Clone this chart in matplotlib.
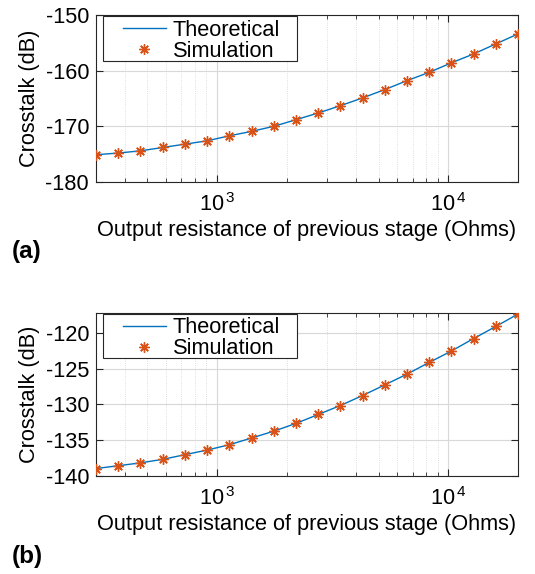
import numpy as np
import matplotlib
matplotlib.use("Agg")
import matplotlib.pyplot as plt
from matplotlib.patches import Rectangle
from matplotlib.ticker import FixedLocator, FixedFormatter, LogLocator, NullFormatter

plt.rcParams['font.family'] = ['Liberation Sans', 'DejaVu Sans']
plt.rcParams['mathtext.fontset'] = 'custom'
plt.rcParams['mathtext.rm'] = 'Liberation Sans'

# output resistance of previous stage (Ohms)
resistance = [300, 374, 467, 583, 727, 907, 1132, 1412, 1761, 2198,
              2742, 3412, 4256, 5309, 6622, 8260, 10304, 12853, 16032, 20000]

# crosstalk (dB), panel (a)
crosstalk_a = [-175.1, -174.8, -174.4, -173.8, -173.2, -172.6, -171.7, -170.9, -170.0, -168.8,
               -167.6, -166.3, -164.9, -163.4, -161.8, -160.3, -158.6, -157.0, -155.2, -153.4]

# crosstalk (dB), panel (b)
crosstalk_b = [-139.0, -138.6, -138.2, -137.7, -137.05, -136.4, -135.65, -134.7, -133.75, -132.65,
               -131.4, -130.15, -128.75, -127.25, -125.75, -124.1, -122.5, -120.75, -119.05, -117.3]

xticks = [1e3, 1e4]
xticklabels = [r'$\mathregular{10^{\,3}}$', r'$\mathregular{10^{\,4}}$']

W, H = 535, 574
fig = plt.figure(figsize=(W / 100, H / 100), dpi=100)

blue = '#0072BD'
orange = '#D95319'
fs = 15.7


def make_panel(rect, y, ylim, yticks, tag, tag_y, box):
    ax = fig.add_axes(rect)
    ax.set_xscale('log')
    ax.plot(resistance, y, color=blue, lw=1.0, label='Theoretical', zorder=3)
    ax.plot(resistance, y, ls='none', marker=(8, 2, 0), color=orange, ms=7.5,
            markeredgewidth=1.0, label='Simulation', zorder=4)
    ax.set_xlim(300, 20000)
    ax.set_ylim(*ylim)
    ax.set_yticks(yticks)
    ax.set_yticklabels([str(v) for v in yticks])
    ax.xaxis.set_major_locator(FixedLocator(xticks))
    ax.xaxis.set_major_formatter(FixedFormatter(xticklabels))
    ax.xaxis.set_minor_locator(LogLocator(base=10, subs=np.arange(2, 10)))
    ax.xaxis.set_minor_formatter(NullFormatter())
    ax.tick_params(which='both', direction='in', top=True, right=True,
                   labelsize=fs, color='#262626')
    ax.tick_params(axis='x', pad=8)
    ax.tick_params(axis='y', pad=5)
    ax.tick_params(which='major', length=5)
    ax.tick_params(which='minor', length=3)
    ax.grid(which='major', color='#d8d8d8', lw=0.8)
    ax.grid(which='minor', axis='x', color='#d4d4d4', lw=0.6, ls=':')
    ax.set_axisbelow(True)
    for s in ax.spines.values():
        s.set_color('#262626')
        s.set_linewidth(0.8)
    ax.set_xlabel('Output resistance of previous stage (Ohms)', fontsize=fs, labelpad=3)
    ax.set_ylabel('Crosstalk (dB)', fontsize=fs, labelpad=4)

    # legend box drawn by hand to get MATLAB-like padding
    x0, y0, x1, y1 = box
    ax.add_patch(Rectangle((x0, y0), x1 - x0, y1 - y0, transform=ax.transAxes,
                           facecolor='white', edgecolor='#262626', lw=0.8, zorder=5))
    h_px = rect[3] * H
    leg = ax.legend(loc='upper left', fontsize=fs, frameon=False, borderpad=0,
                    labelspacing=0.0, handlelength=1.95, handletextpad=0.33,
                    borderaxespad=0, bbox_to_anchor=(27 / 422, y1 - 3.5 / h_px))
    leg.set_zorder(6)
    fig.text(12 / W, 1 - tag_y / H, tag, fontsize=17.5, fontweight='bold', va='center', ha='left')
    return ax


make_panel([96 / W, 1 - 182 / H, 422 / W, 167 / H], crosstalk_a, (-180, -150),
           [-180, -170, -160, -150], '(a)', 251, (0.0166, 0.7246, 0.476, 0.994))
make_panel([96 / W, 1 - 475.7 / H, 422 / W, 162.4 / H], crosstalk_b, (-140, -117.2),
           [-140, -135, -130, -125, -120], '(b)', 556, (0.0166, 0.723, 0.476, 0.9957))

fig.savefig('out.png', dpi=100)
